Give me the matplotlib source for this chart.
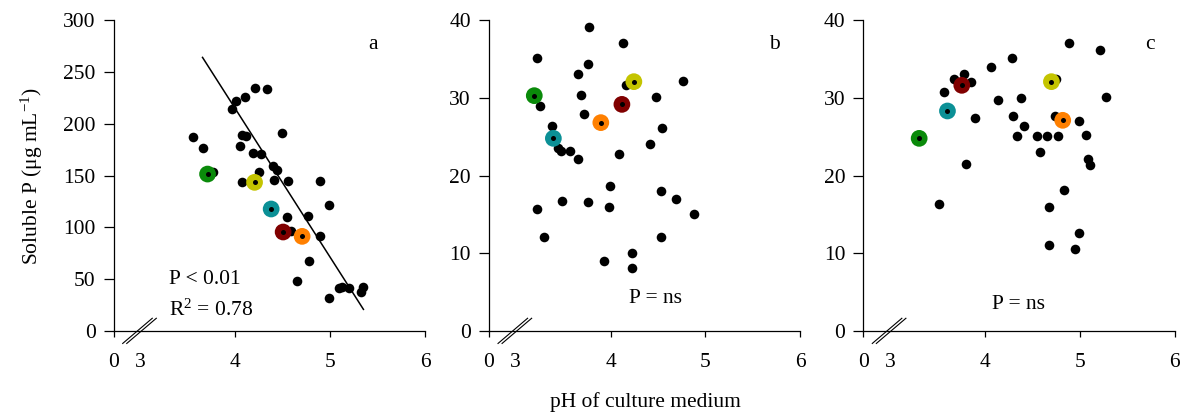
import matplotlib
matplotlib.use("Agg")
import matplotlib.pyplot as plt

plt.rcParams['font.family'] = ['Liberation Serif', 'DejaVu Serif']
plt.rcParams['mathtext.fontset'] = 'custom'
plt.rcParams['mathtext.rm'] = 'Liberation Serif'
plt.rcParams['mathtext.it'] = 'Liberation Serif:italic'
plt.rcParams['mathtext.bf'] = 'Liberation Serif:bold'

# ---- panel a: soluble P (ug/mL) vs pH ----
ph_a = [3.554, 3.660, 3.770, 3.968, 4.007, 4.105, 4.214, 4.340, 4.070, 4.112,
        4.049, 4.189, 4.277, 4.488, 4.396, 4.442, 4.246, 4.070, 4.404, 4.561,
        4.895, 4.993, 4.544, 4.765, 4.586, 4.891, 4.775, 4.646, 4.993, 5.091,
        5.126, 5.204, 5.330, 5.347]
p_a = [187.4, 176.5, 153.4, 214.4, 221.8, 225.7, 234.7, 233.4, 189.0, 187.8,
       178.8, 171.7, 170.4, 190.6, 159.5, 155.6, 153.7, 143.4, 145.3, 144.4,
       145.0, 121.5, 109.6, 110.6, 96.8, 91.3, 67.5, 48.5, 32.2, 41.5,
       42.1, 41.5, 37.3, 42.1]

# ---- panel b ----
ph_b = [3.778, 4.134, 3.222, 3.768, 3.655, 4.158, 4.761, 3.694, 4.475, 3.254,
        3.718, 3.384, 4.546, 3.447, 3.475, 3.577, 3.662, 4.412, 4.088, 3.993,
        4.535, 4.694, 3.486, 3.761, 3.229, 3.989, 4.884, 3.296, 4.535, 4.229,
        3.930, 4.229]
p_b = [39.1, 37.1, 35.1, 34.3, 33.1, 31.6, 32.1, 30.4, 30.05, 29.0,
       27.9, 26.4, 26.1, 23.6, 23.1, 23.1, 22.1, 24.1, 22.8, 18.7,
       18.05, 17.0, 16.7, 16.55, 15.7, 16.0, 15.05, 12.05, 12.05, 10.0,
       9.05, 8.06]

# ---- panel c ----
ph_c = [4.888, 5.211, 4.291, 4.067, 3.782, 3.674, 3.860, 4.754, 3.568, 5.274,
        4.379, 4.137, 3.898, 4.298, 4.737, 4.989, 4.411, 4.340, 4.551, 4.660,
        4.772, 5.063, 4.582, 5.088, 5.109, 3.804, 4.839, 3.523, 4.681, 4.989,
        4.681, 4.954]
p_c = [37.1, 36.1, 35.1, 33.95, 33.1, 32.4, 32.0, 32.45, 30.7, 30.05,
       30.0, 29.7, 27.4, 27.7, 27.7, 27.05, 26.4, 25.1, 25.1, 25.1,
       25.1, 25.25, 23.05, 22.1, 21.35, 21.45, 18.1, 16.4, 16.0, 12.55,
       11.0, 10.55]

# ---- highlighted strains (same order in every panel) ----
strain_colors = ['#0a8a0a', '#c4c400', '#0b9096', '#800000', '#ff8000']
hl_ph_a = [3.709, 4.204, 4.379, 4.505, 4.705]
hl_p_a = [151.4, 143.4, 117.7, 95.5, 91.3]
hl_ph_b = [3.197, 4.246, 3.398, 4.120, 3.898]
hl_p_b = [30.27, 32.07, 24.78, 29.15, 26.8]
hl_ph_c = [3.309, 4.702, 3.607, 3.758, 4.821]
hl_p_c = [24.78, 32.07, 28.3, 31.6, 27.1]

# linear fit for panel a
fit_slope, fit_intercept = -143.4, 788.2
fit_x = [3.656, 5.351]

x_min, x_max = 2.72, 6.0
x_ticks = [x_min, 3, 4, 5, 6]
x_ticklabels = ['0', '3', '4', '5', '6']
yticks_a = [0, 50, 100, 150, 200, 250, 300]
yticks_bc = [0, 10, 20, 30, 40]

FS = 15.5

fig = plt.figure(figsize=(11.84, 4.16), dpi=100)
lefts = [0.0960, 0.4130, 0.7291]
axes = [fig.add_axes([l, 0.2043, 0.2630, 0.7476]) for l in lefts]

panels = [
    (ph_a, p_a, hl_ph_a, hl_p_a, 300, yticks_a, 'a', (5.456, 275.9)),
    (ph_b, p_b, hl_ph_b, hl_p_b, 40, yticks_bc, 'b', (5.725, 36.8)),
    (ph_c, p_c, hl_ph_c, hl_p_c, 40, yticks_bc, 'c', (5.737, 36.8)),
]

for ax, (xs, ys, hx, hy, ytop, yt, letter, lpos) in zip(axes, panels):
    ax.scatter(xs, ys, s=48, color='black', linewidths=0, zorder=3)
    ax.scatter(hx, hy, s=145, c=strain_colors, linewidths=0, zorder=4)
    ax.scatter(hx, hy, s=13, color='black', linewidths=0, zorder=5)
    ax.set_xlim(x_min, x_max)
    ax.set_ylim(0, ytop)
    ax.set_xticks(x_ticks)
    ax.set_xticklabels(x_ticklabels)
    ax.set_yticks(yt)
    for s in ('top', 'right'):
        ax.spines[s].set_visible(False)
    for s in ('left', 'bottom'):
        ax.spines[s].set_linewidth(0.9)
    ax.tick_params(axis='x', length=4, width=0.9, pad=12, labelsize=FS)
    ax.tick_params(axis='y', length=7, width=0.9, pad=6, labelsize=FS)
    ax.xaxis.get_major_ticks()[1].tick1line.set_visible(False)
    ax.text(lpos[0], lpos[1], letter, fontsize=FS, ha='center', va='center')
    # axis break marks
    for dx in (0.0, 0.013):
        ax.plot([0.029 + dx, 0.124 + dx], [-0.040, 0.041], transform=ax.transAxes,
                color='black', lw=0.8, clip_on=False, zorder=6)

ax_a, ax_b, ax_c = axes
ax_a.plot(fit_x, [fit_intercept + fit_slope * x for x in fit_x],
          color='black', lw=1.1, zorder=2)
ax_a.text(3.308, 49.9, 'P < 0.01', fontsize=FS, ha='left', va='center')
ax_a.text(3.308, 20, 'R$^{2}$ = 0.78', fontsize=FS, ha='left', va='center')
ax_b.text(4.475, 4.24, 'P = ns', fontsize=FS, ha='center', va='center')
ax_c.text(4.36, 3.35, 'P = ns', fontsize=FS, ha='center', va='center')

ax_a.set_ylabel('Soluble P (μg mL$^{-1}$)', fontsize=FS, labelpad=13)
fig.text(0.5448, 0.034, 'pH of culture medium', fontsize=FS, ha='center', va='center')

fig.savefig('out.png', dpi=100)
